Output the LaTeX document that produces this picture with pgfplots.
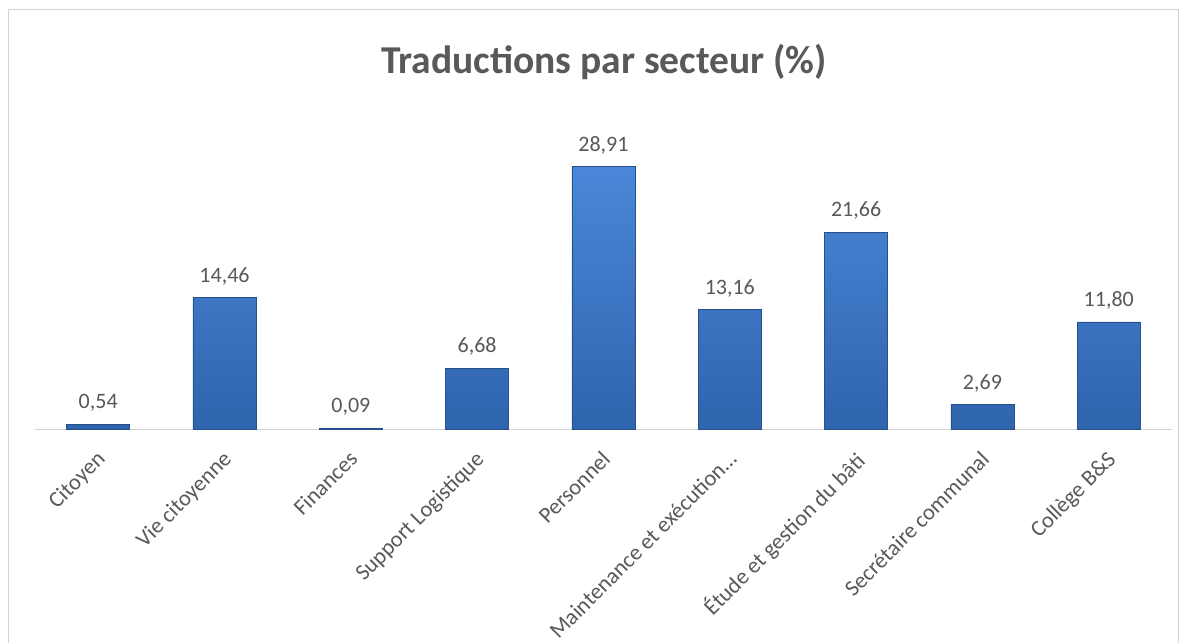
\documentclass[border=0pt]{standalone}
\usepackage{pgfplots}
\pgfplotsset{compat=1.18}
\usepackage{fontspec}
\setmainfont{Carlito}
\definecolor{lbl}{HTML}{595959}
\definecolor{bartop}{HTML}{4A87D8}
\definecolor{barbot}{HTML}{2F64AE}
\definecolor{baredge}{HTML}{264F8C}
\begin{document}
\begin{tikzpicture}
\path[use as bounding box] (0,0) rectangle (1187bp,643bp);
\fill[white] (0,0) rectangle (1187bp,643bp);
\draw[gray!35, line width=1bp] (8bp,-5bp) rectangle (1178bp,633bp);
\node[font=\fontsize{39.5bp}{44bp}\selectfont\bfseries, text=lbl] at (604bp,581bp) {Traductions par secteur (\%)};
\begin{axis}[
  at={(35bp,214bp)}, anchor=south west,
  scale only axis, width=1137bp, height=272.4bp,
  xmin=-0.5, xmax=8.5, ymin=0, ymax=30,
  axis y line=none, axis x line*=bottom,
  x axis line style={gray!35, line width=1bp, -},
  xtick=data, major tick length=0pt,
  xticklabels={Citoyen, Vie citoyenne, Finances, Support Logistique, Personnel, Maintenance et exécution…, Étude et gestion du bâti, Secrétaire communal, Collège B\&S},
  xticklabel style={xshift=-3bp, yshift=-19bp, rotate=45, anchor=north east, font=\fontsize{22.5bp}{27bp}\selectfont, text=lbl, inner sep=1bp},
  ybar, bar width=63bp,
  nodes near coords,
  nodes near coords style={font=\fontsize{22bp}{26bp}\selectfont, text=lbl, yshift=9bp, /pgf/number format/.cd, assume math mode=true, use comma, fixed, fixed zerofill, precision=2},
  clip=false,
]
\addplot[draw=baredge, line width=0.6bp, top color=bartop, bottom color=barbot] coordinates {
(0,0.54) (1,14.46) (2,0.09) (3,6.68) (4,28.91) (5,13.16) (6,21.66) (7,2.69) (8,11.80)};
\end{axis}
\end{tikzpicture}
\end{document}
